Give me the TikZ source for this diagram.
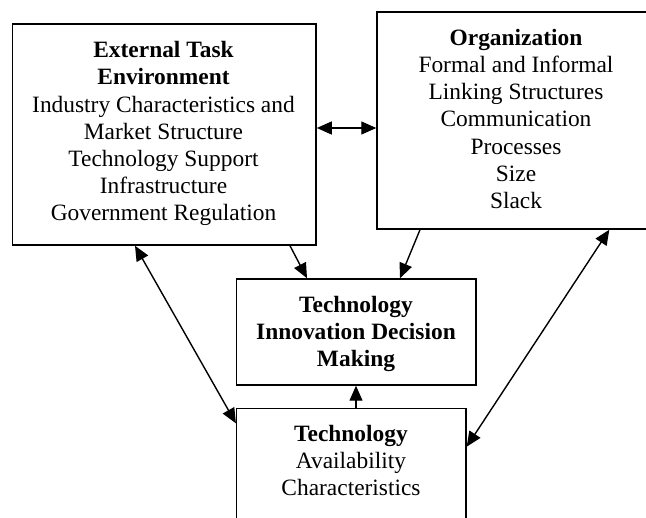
\documentclass[tikz,border=0pt]{standalone}
\usepackage{fontspec}
\setmainfont{Liberation Serif}
\usetikzlibrary{arrows.meta}
\begin{document}
\begin{tikzpicture}[x=1pt,y=-1pt,
  box/.style={draw, line width=1.5pt, rectangle, inner sep=0pt},
  txt/.style={align=center, inner sep=0pt, anchor=north, font=\fontsize{23.4}{27.2}\selectfont},
  arr/.style={line width=1.4pt, -{Triangle[length=15pt,width=13pt]}},
  biarr/.style={line width=1.4pt, {Triangle[length=15pt,width=13pt]}-{Triangle[length=15pt,width=13pt]}}]
\useasboundingbox (0,0) rectangle (646,518);
\fill[white] (0,0) rectangle (646,518);
\clip (0,0) rectangle (646,518);
% boxes
\node[box, minimum width=303.7pt, minimum height=221pt] (ext) at (164.2,134.5) {};
\node[box, minimum width=278pt, minimum height=217pt] (org) at (516,120.5) {};
\node[box, minimum width=239.3pt, minimum height=106pt] (mid) at (356.3,332) {};
\node[box, minimum width=229.3pt, minimum height=140pt] (tech) at (351.3,478.3) {};
% texts
\node[txt] (extT) at (163.5,41.2) {\textbf{External Task}\\\textbf{Environment}\\Industry Characteristics and\\Market Structure\\Technology Support\\Infrastructure\\Government Regulation};
\node[txt] (orgT) at (516,28.8) {\textbf{Organization}\\Formal and Informal\\Linking Structures\\Communication\\Processes\\Size\\Slack};
\node[txt] (midT) at (356,295.9) {\textbf{Technology}\\\textbf{Innovation Decision}\\\textbf{Making}};
\node[txt] (techT) at (351,424.9) {\textbf{Technology}\\Availability\\Characteristics};
% connectors
\draw[biarr] (ext.east |- 0,128) -- (org.west |- 0,128);
\draw[arr] (290,0 |- ext.south) -- (307,0 |- mid.north);
\draw[arr] (420,0 |- org.south) -- (400,0 |- mid.north);
\draw[arr] (356,0 |- tech.north) -- (356,0 |- mid.south);
\draw[biarr] (135,0 |- ext.south) -- (tech.west |- 0,423.3);
\draw[biarr] (609.3,0 |- org.south) -- (tech.east |- 0,446.7);
\end{tikzpicture}
\end{document}
